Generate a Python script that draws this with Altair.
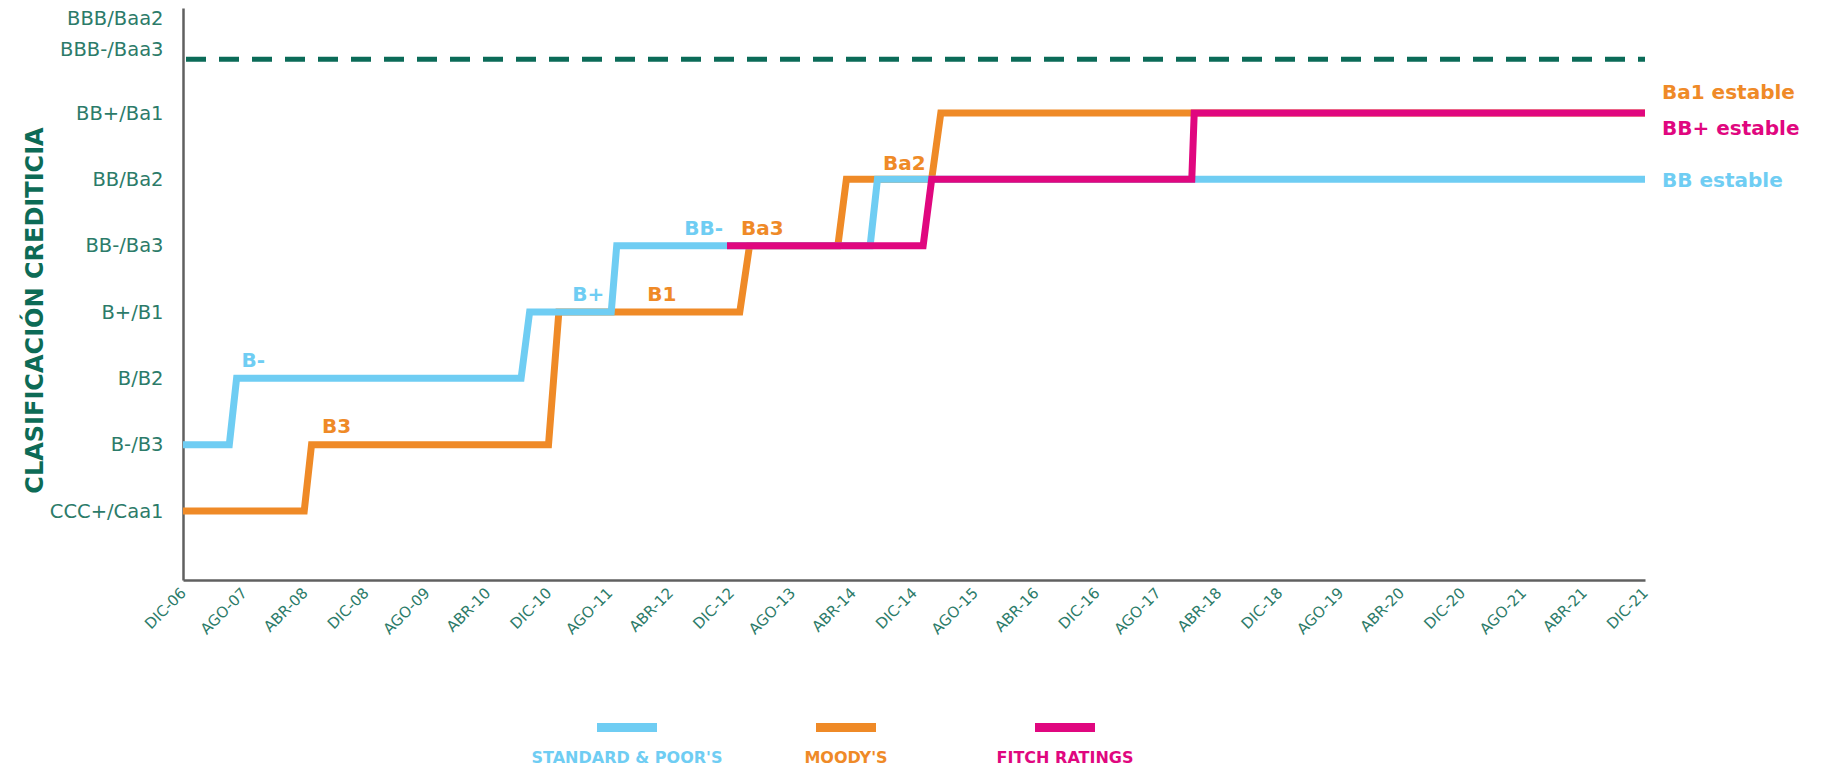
import altair as alt
import pandas as pd

# ---------------- data ----------------
x_labels = ["DIC-06", "AGO-07", "ABR-08", "DIC-08", "AGO-09", "ABR-10", "DIC-10",
            "AGO-11", "ABR-12", "DIC-12", "AGO-13", "ABR-14", "DIC-14", "AGO-15",
            "ABR-16", "DIC-16", "AGO-17", "ABR-18", "DIC-18", "AGO-19", "ABR-20",
            "DIC-20", "AGO-21", "ABR-21", "DIC-21"]

rating_labels = ["CCC+/Caa1", "B-/B3", "B/B2", "B+/B1", "BB-/Ba3", "BB/Ba2",
                 "BB+/Ba1", "BBB-/Baa3", "BBB/Baa2"]
rating_levels = [1, 2, 3, 4, 5, 6, 7, 7.95, 8.43]

series_names = ["STANDARD & POOR'S", "MOODY'S", "FITCH RATINGS"]
series_colors = ["#6fcdf3", "#ef8a27", "#e0077f"]

# step breakpoints (x = position on the date axis, y = rating level)
sp_x = [0, 0.76, 0.88, 5.55, 5.69, 7.03, 7.12, 11.28, 11.40, 24]
sp_y = [2, 2, 3, 3, 4, 4, 5, 5, 6, 6]
moody_x = [0, 1.99, 2.11, 6.00, 6.17, 9.14, 9.30, 10.75, 10.89, 12.29, 12.44, 24]
moody_y = [1, 1, 2, 2, 4, 4, 5, 5, 6, 6, 7, 7]
fitch_x = [8.93, 12.15, 12.29, 16.56, 16.60, 24]
fitch_y = [5, 5, 6, 6, 7, 7]

investment_grade = 7.81

ann_text = ["B-", "B3", "B+", "B1", "BB-", "Ba3", "Ba2"]
ann_series = ["STANDARD & POOR'S", "MOODY'S", "STANDARD & POOR'S", "MOODY'S",
              "STANDARD & POOR'S", "MOODY'S", "MOODY'S"]
ann_x = [0.96, 2.28, 6.39, 7.62, 8.23, 9.16, 11.49]
ann_y = [3.26, 2.27, 4.25, 4.25, 5.25, 5.25, 6.23]

end_text = ["Ba1 estable", "BB+ estable", "BB estable"]
end_series = ["MOODY'S", "FITCH RATINGS", "STANDARD & POOR'S"]
end_y = [7.30, 6.76, 5.98]

# ---------------- tables ----------------
rows = []
for name, xs, ys in [(series_names[0], sp_x, sp_y),
                     (series_names[1], moody_x, moody_y),
                     (series_names[2], fitch_x, fitch_y)]:
    for i, (xv, yv) in enumerate(zip(xs, ys)):
        rows.append({"series": name, "t": xv, "level": yv, "step": i})
lines_df = pd.DataFrame(rows)
ann_df = pd.DataFrame({"text": ann_text, "series": ann_series, "t": ann_x, "level": ann_y})
end_df = pd.DataFrame({"text": end_text, "series": end_series, "t": [24] * 3, "level": end_y})
legend_df = pd.DataFrame({"series": series_names})

TEAL = "#2c7b69"
DARK = "#0d6b56"
GRAY = "#606060"

x_expr = "[" + ",".join("'%s'" % s for s in x_labels) + "][datum.value]"
y_expr = ("[" + ",".join("'%s'" % s for s in rating_labels) + "][indexof(["
          + ",".join(str(v) for v in rating_levels) + "], datum.value)]")

x_scale = alt.Scale(domain=[0, 24], nice=False, zero=False)
y_scale = alt.Scale(domain=[-0.04, 8.583], nice=False, zero=False)
color = alt.Color("series:N", scale=alt.Scale(domain=series_names, range=series_colors),
                  legend=None)

x_axis = alt.Axis(values=list(range(25)), labelExpr=x_expr, labelAngle=-45,
                  labelAlign="right", labelBaseline="middle", labelPadding=10,
                  labelFont="DejaVu Sans", labelFontSize=15, labelColor=TEAL,
                  labelOverlap=False, labelBound=False, ticks=False, grid=False,
                  domainColor=GRAY, domainWidth=2.5)
y_axis = alt.Axis(values=rating_levels, labelExpr=y_expr, labelPadding=20,
                  labelFont="DejaVu Sans", labelFontSize=19.5, labelColor=TEAL,
                  labelOverlap=False, labelBound=False, ticks=False, grid=False,
                  domainColor=GRAY, domainWidth=2.5,
                  title="CLASIFICACIÓN CREDITICIA", titleFont="DejaVu Sans",
                  titleFontWeight="bold", titleFontSize=24, titleColor=DARK,
                  titleX=-148, titleY=302, titleAngle=-90, titleAlign="center",
                  titleBaseline="middle")

X = alt.X("t:Q", scale=x_scale, axis=x_axis, title=None)
Y = alt.Y("level:Q", scale=y_scale, axis=y_axis)

base = alt.Chart(lines_df).mark_line(strokeWidth=7, strokeJoin="miter",
                                      strokeCap="butt").encode(
    x=X, y=Y, color=color, order=alt.Order("step:Q"))

layers = []
for name in [series_names[1], series_names[0], series_names[2]]:
    layers.append(base.transform_filter(alt.datum.series == name))

rule = alt.Chart(pd.DataFrame({"level": [investment_grade]})).mark_rule(
    color="#0b6b58", strokeWidth=5, strokeDash=[20, 13], strokeDashOffset=13
).encode(y=alt.Y("level:Q", scale=y_scale, axis=y_axis))

ann = alt.Chart(ann_df).mark_text(font="DejaVu Sans", fontWeight="bold", fontSize=20,
                                  align="left", baseline="middle").encode(
    x=alt.X("t:Q", scale=x_scale, axis=x_axis, title=None),
    y=alt.Y("level:Q", scale=y_scale, axis=y_axis),
    text="text:N", color=color)

ends = alt.Chart(end_df).mark_text(font="DejaVu Sans", fontWeight="bold", fontSize=20,
                                   align="left", baseline="middle", dx=17).encode(
    x=alt.X("t:Q", scale=x_scale, axis=x_axis, title=None),
    y=alt.Y("level:Q", scale=y_scale, axis=y_axis),
    text="text:N", color=color)

main = alt.layer(rule, *layers, ann, ends)

leg_x = alt.X("series:N", scale=alt.Scale(type="point", domain=series_names,
                                          range=[444, 882], padding=0), axis=None)
leg_sw = alt.Chart(legend_df).mark_tick(orient="horizontal", size=60, thickness=9,
                                        opacity=1).encode(
    x=leg_x, y=alt.value(719.5), color=color)
leg_tx = alt.Chart(legend_df).mark_text(font="DejaVu Sans", fontWeight="bold",
                                        fontSize=16, align="center",
                                        baseline="middle").encode(
    x=leg_x, y=alt.value(750), text="series:N", color=color)
legend = alt.layer(leg_sw, leg_tx)

chart = alt.layer(main, legend).resolve_scale(x="independent").properties(
    width=1462, height=572,
    autosize=alt.AutoSizeParams(type="none"),
    padding={"left": 175, "top": 0, "right": 172, "bottom": 200},
).configure_view(strokeWidth=0)

chart.save("out.html", embed_options={"renderer": "svg", "actions": False})
